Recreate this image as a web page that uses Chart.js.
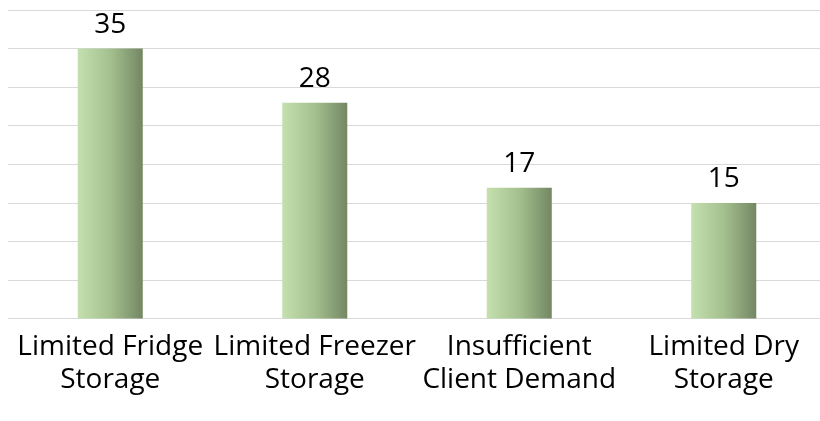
<!DOCTYPE html>
<html>
<head>
<meta charset="utf-8">
<script src="https://cdn.jsdelivr.net/npm/chart.js@4/dist/chart.umd.min.js"></script>
<style>
  html, body { margin: 0; padding: 0; background: #fff; overflow: hidden; }
  #wrap { width: 826px; height: 421px; }
</style>
</head>
<body>
<div id="wrap"><canvas id="barChart"></canvas></div>
<script>
// chart data
const categories = [
  ['Limited Fridge', 'Storage'],
  ['Limited Freezer', 'Storage'],
  ['Insufficient', 'Client Demand'],
  ['Limited Dry', 'Storage']
];
const counts = [35, 28, 17, 15];
const yTicks = [0, 5, 10, 15, 20, 25, 30, 35, 40];

const FONT = '"Open Sans", "Noto Sans", sans-serif';
const BAR_PCT = 0.318;

// horizontal light-to-dark green fill per bar
function barFill(ctx) {
  const chart = ctx.chart;
  const area = chart.chartArea;
  if (!area) return '#a5c08f';
  const x = chart.scales.x.getPixelForValue(ctx.dataIndex);
  const half = (area.width / categories.length) * BAR_PCT / 2;
  const g = chart.ctx.createLinearGradient(x - half, 0, x + half, 0);
  g.addColorStop(0, '#c4e0ae');
  g.addColorStop(0.5, '#a5c08f');
  g.addColorStop(1, '#738763');
  return g;
}

// value labels above the bars
const valueLabels = {
  id: 'valueLabels',
  afterDatasetsDraw(chart) {
    const c = chart.ctx;
    const meta = chart.getDatasetMeta(0);
    c.save();
    c.font = '28px ' + FONT;
    c.fillStyle = '#000';
    c.textAlign = 'center';
    c.textBaseline = 'alphabetic';
    meta.data.forEach((el, i) => {
      c.fillText(String(counts[i]), el.x, el.y - 16);
    });
    c.restore();
  }
};

let ctx = document.getElementById('barChart').getContext('2d');
let barChart = new Chart(ctx, {
  type: 'bar',
  data: {
    labels: categories,
    datasets: [{
      data: counts,
      backgroundColor: barFill,
      borderWidth: 0,
      categoryPercentage: 1,
      barPercentage: BAR_PCT
    }]
  },
  options: {
    responsive: true,
    maintainAspectRatio: false,
    animation: false,
    layout: { padding: { left: 8, top: 10, right: 0, bottom: 21 } },
    plugins: { legend: { display: false }, tooltip: { enabled: false } },
    scales: {
      x: {
        grid: { display: false },
        border: { display: false },
        ticks: {
          autoSkip: false,
          maxRotation: 0,
          padding: 3.5,
          color: '#000',
          font: { family: FONT, size: 28, lineHeight: 1.18 }
        }
      },
      y: {
        min: 0,
        max: 40,
        afterBuildTicks(axis) { axis.ticks = yTicks.map(v => ({ value: v })); },
        grid: { color: '#d9d9d9', lineWidth: 1, drawTicks: false },
        border: { display: false },
        ticks: { display: false }
      }
    }
  },
  plugins: [valueLabels]
});
</script>
</body>
</html>
